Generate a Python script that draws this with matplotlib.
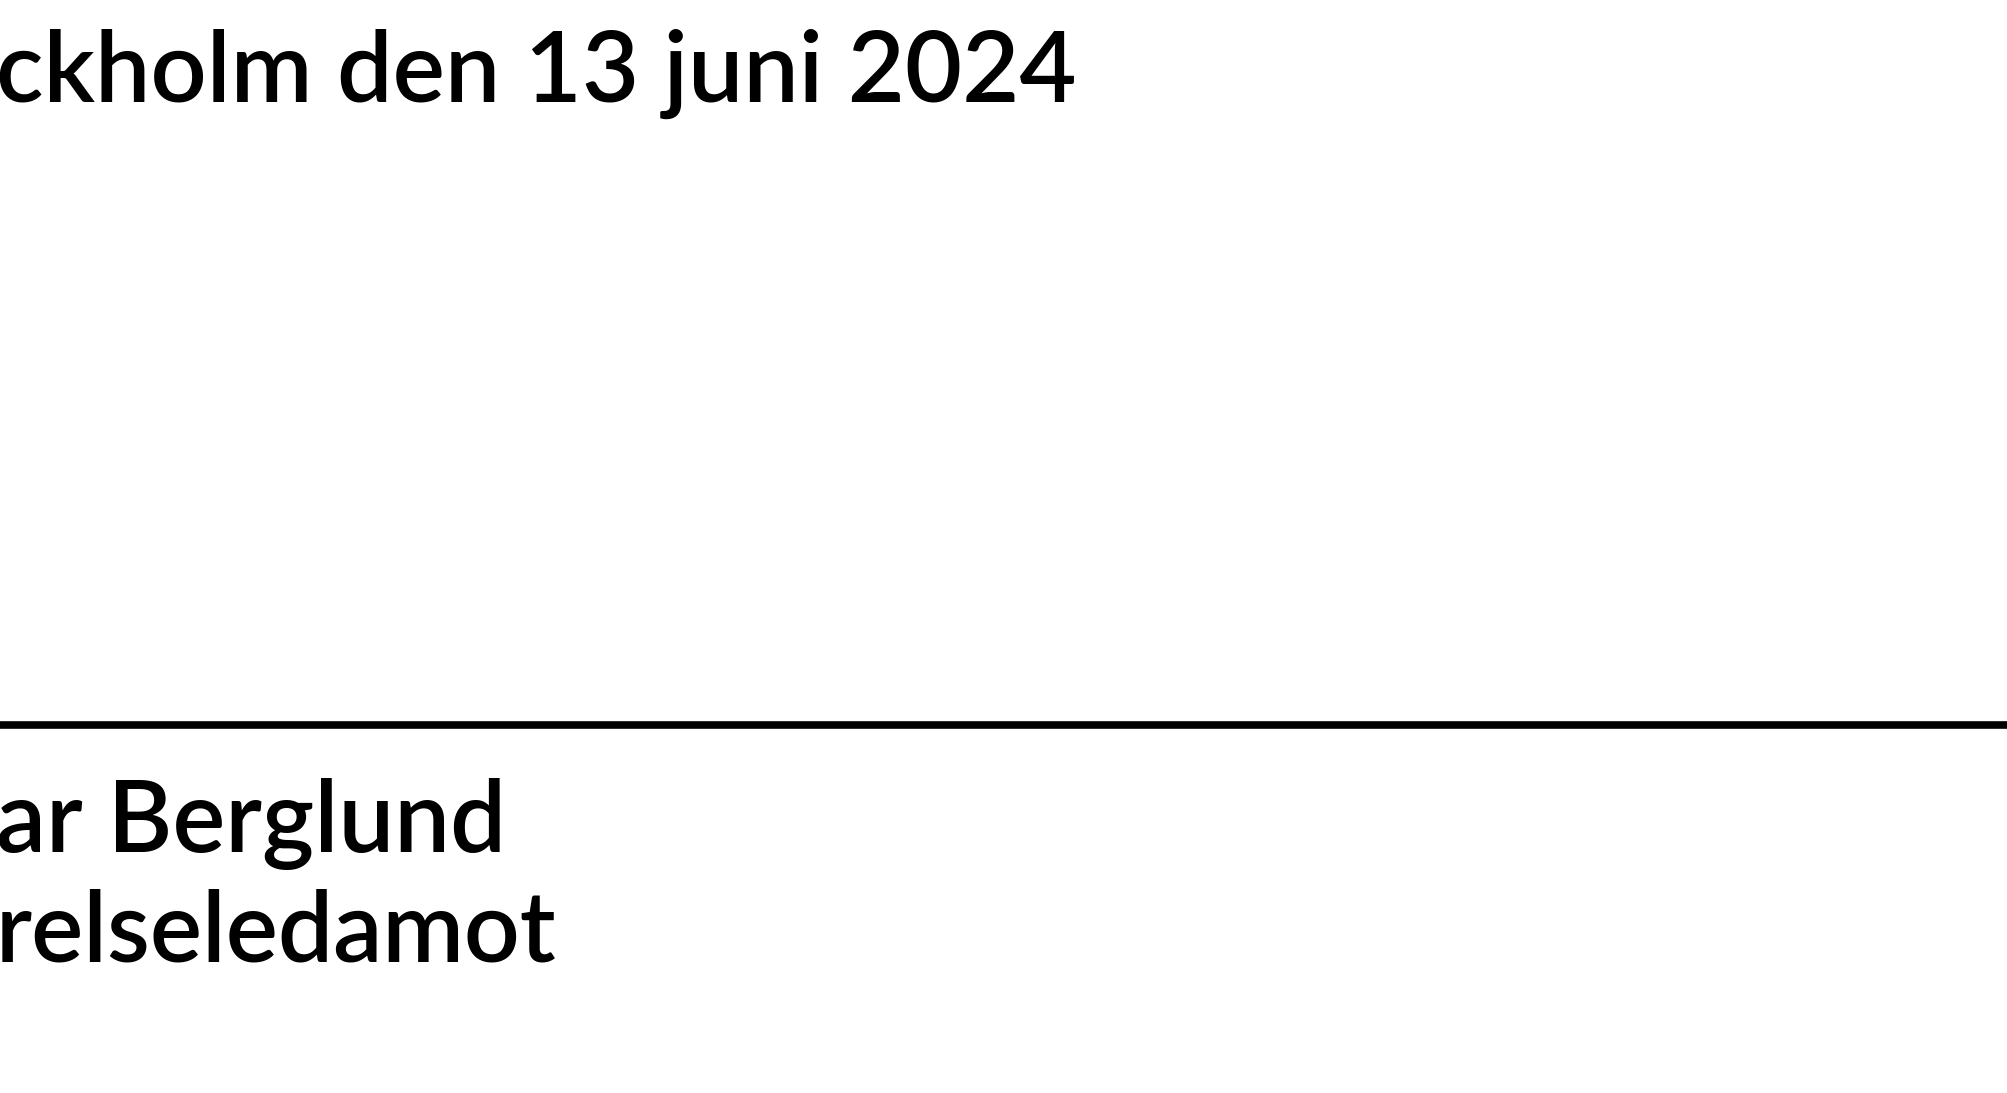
import matplotlib
matplotlib.use("Agg")
import matplotlib.pyplot as plt

# Document text (visible, cropped at the left edge in the reference)
lines_text = ["ckholm den 13 juni 2024", "ar Berglund", "relseledamot"]
# baseline y (px from top), right edge x (px) of each visible string
baselines = [102, 852, 962]
right_edges = [1076, 506, 557]
rule_y = 725

W, H = 2008, 1093
fig = plt.figure(figsize=(W / 100, H / 100), dpi=100)
ax = fig.add_axes([0, 0, 1, 1])
ax.set_xlim(0, W)
ax.set_ylim(H, 0)
ax.axis("off")
fig.patch.set_facecolor("white")

# signature rule
ax.plot([0, W], [rule_y, rule_y], color="black", lw=5.5, solid_capstyle="butt")

renderer = fig.canvas.get_renderer()
for s, yb, xr in zip(lines_text, baselines, right_edges):
    t = ax.text(-4, yb, s, fontsize=72, family=["Lato", "DejaVu Sans"],
                fontweight="semibold", ha="left", va="baseline", color="black")
    bb = t.get_window_extent(renderer)
    t.set_fontsize(72 * (xr + 4) / bb.width)

fig.savefig("out.png", dpi=100, facecolor="white")
